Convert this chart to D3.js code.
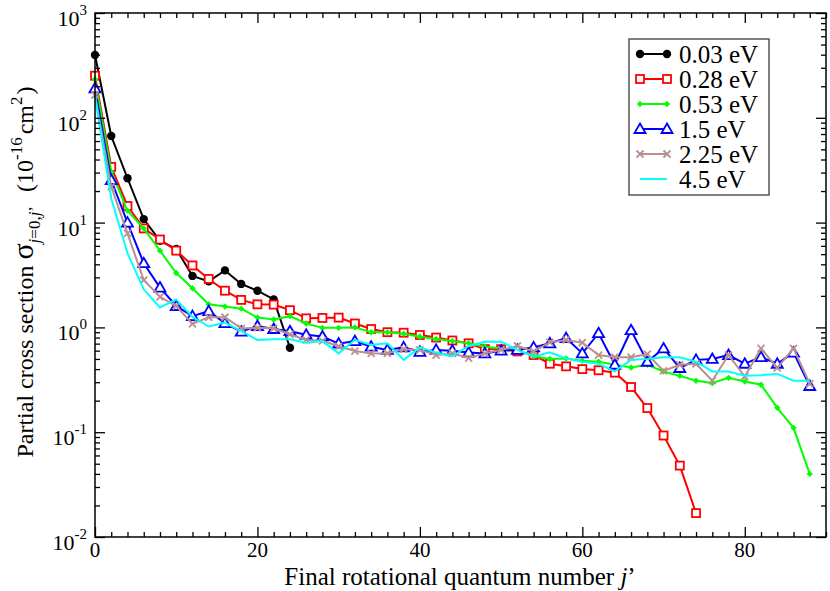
<!DOCTYPE html>
<html><head><meta charset="utf-8">
<script src="https://cdn.jsdelivr.net/npm/d3@7"></script>
<style>
body{margin:0;background:#fff;}
svg{display:block;font-family:"Liberation Serif","Times New Roman",serif;}
</style></head>
<body>
<svg id="c" width="830" height="591"></svg>
<script>
// ---- data ----
const jBlack = d3.range(0, 25, 2);
const jRed = d3.range(0, 75, 2);
const jFull = d3.range(0, 89, 2);
const black = [398, 67, 26.5, 10.8, 6.7, 5.6, 3.1, 2.75, 3.5, 2.6, 2.24, 1.85, 0.64];
const red = [252, 34, 14.4, 8.8, 6.9, 5.4, 3.9, 2.9, 2.24, 1.83, 1.66, 1.65, 1.46, 1.22, 1.23, 1.24, 1.09, 0.965, 0.90, 0.89,
  0.846, 0.80, 0.75, 0.705, 0.62, 0.62, 0.59, 0.545, 0.45, 0.425, 0.40, 0.39, 0.37, 0.27, 0.17, 0.093, 0.048, 0.0169];
const green = [233, 30.6, 13, 8.8, 5.4, 3.3, 2.36, 1.66, 1.58, 1.51, 1.24, 1.19, 1.28, 1.09, 0.99, 0.99, 1.0, 0.90, 0.90, 0.87,
  0.815, 0.775, 0.74, 0.705, 0.655, 0.63, 0.61, 0.53, 0.50, 0.505, 0.48, 0.47, 0.44, 0.415, 0.44, 0.38, 0.345, 0.31, 0.295, 0.33,
  0.305, 0.284, 0.171, 0.11, 0.040];
const blue = [191, 25.5, 10, 4.1, 2.4, 1.6, 1.28, 1.43, 1.1, 0.91, 1.03, 0.965, 0.92, 0.85, 0.82, 0.70, 0.74, 0.655, 0.61, 0.645,
  0.585, 0.61, 0.60, 0.575, 0.565, 0.60, 0.61, 0.645, 0.705, 0.79, 0.565, 0.88, 0.44, 0.94, 0.47, 0.63, 0.41, 0.49, 0.50, 0.545,
  0.45, 0.52, 0.45, 0.575, 0.276];
const brown = [165, 22, 7.9, 2.83, 1.96, 1.6, 1.08, 1.25, 1.25, 0.98, 0.99, 0.98, 0.86, 0.76, 0.745, 0.66, 0.595, 0.565, 0.565, 0.62,
  0.61, 0.545, 0.565, 0.51, 0.565, 0.61, 0.665, 0.59, 0.72, 0.76, 0.715, 0.545, 0.52, 0.52, 0.555, 0.385, 0.44, 0.45, 0.31, 0.545,
  0.34, 0.63, 0.41, 0.63, 0.29];
const cyan = [158, 17, 5.1, 2.31, 1.55, 1.85, 1.26, 1.02, 1.11, 0.92, 0.76, 0.77, 0.77, 0.715, 0.74, 0.565, 0.76, 0.68, 0.705, 0.49,
  0.645, 0.575, 0.53, 0.665, 0.73, 0.73, 0.61, 0.525, 0.58, 0.505, 0.47, 0.45, 0.38, 0.49, 0.50, 0.52, 0.52, 0.47, 0.38, 0.38,
  0.345, 0.35, 0.36, 0.31, 0.31];
const seriesLabels = ["0.03 eV", "0.28 eV", "0.53 eV", "1.5 eV", "2.25 eV", "4.5 eV"];
const xTicks = [0, 20, 40, 60, 80];
const yExponents = [3, 2, 1, 0, -1, -2];

// ---- layout ----
const L = 95, R = 826, T = 13, B = 537;
const svg = d3.select("#c");
const x = d3.scaleLinear().domain([0, 90]).range([L, R]);
const y = d3.scaleLog().domain([1e-2, 1e3]).range([B, T]);

const series = [
  {j: jBlack, v: black, color: "#000000", sym: "circle"},
  {j: jRed, v: red, color: "#ff0000", sym: "square"},
  {j: jFull, v: green, color: "#00ff00", sym: "diamond"},
  {j: jFull, v: blue, color: "#0000ff", sym: "triangle"},
  {j: jFull, v: brown, color: "#bc8f8f", sym: "cross"},
  {j: jFull, v: cyan, color: "#00ffff", sym: "none"}
];

function drawSym(g, sym, color, cx, cy) {
  if (sym === "circle") g.append("circle").attr("cx", cx).attr("cy", cy).attr("r", 4.2).attr("fill", color);
  else if (sym === "square") g.append("rect").attr("x", cx - 4).attr("y", cy - 4).attr("width", 8).attr("height", 8)
    .attr("fill", "#fff").attr("stroke", color).attr("stroke-width", 1.8);
  else if (sym === "diamond") g.append("path").attr("d", `M${cx},${cy-3.2}L${cx+3.2},${cy}L${cx},${cy+3.2}L${cx-3.2},${cy}Z`).attr("fill", color);
  else if (sym === "triangle") g.append("path").attr("d", `M${cx},${cy-5.5}L${cx+5.5},${cy+4}L${cx-5.5},${cy+4}Z`)
    .attr("fill", "#fff").attr("stroke", color).attr("stroke-width", 1.8);
  else if (sym === "cross") g.append("path").attr("d", `M${cx-3.5},${cy-3.5}L${cx+3.5},${cy+3.5}M${cx+3.5},${cy-3.5}L${cx-3.5},${cy+3.5}`)
    .attr("stroke", color).attr("stroke-width", 1.8);
}

const plot = svg.append("g");
const line = d3.line().x(d => x(d[0])).y(d => y(d[1]));
series.forEach(s => {
  const pts = s.j.map((j, i) => [j, s.v[i]]);
  plot.append("path").attr("d", line(pts)).attr("fill", "none").attr("stroke", s.color).attr("stroke-width", 2);
  const mg = plot.append("g");
  pts.forEach(p => drawSym(mg, s.sym, s.color, x(p[0]), y(p[1])));
});

// ---- axes (inward ticks) ----
const axCol = "#000";
const minorX = d3.range(0, 91, 2).filter(v => v % 20 !== 0);
const minorY = [];
for (let e = -2; e < 3; e++) for (let m = 2; m <= 9; m++) minorY.push(m * Math.pow(10, e));
const majorY = yExponents.map(e => Math.pow(10, e));

function styleAxis(g) { g.selectAll("path").remove(); g.selectAll("text").remove(); g.selectAll("line").attr("stroke", axCol).attr("stroke-width", 1.3); }
svg.append("g").attr("transform", `translate(0,${B})`).call(d3.axisBottom(x).tickValues(xTicks).tickSize(-10)).call(styleAxis);
svg.append("g").attr("transform", `translate(0,${B})`).call(d3.axisBottom(x).tickValues(minorX).tickSize(-5)).call(styleAxis);
svg.append("g").attr("transform", `translate(0,${T})`).call(d3.axisTop(x).tickValues(xTicks).tickSize(-10)).call(styleAxis);
svg.append("g").attr("transform", `translate(0,${T})`).call(d3.axisTop(x).tickValues(minorX).tickSize(-5)).call(styleAxis);
svg.append("g").attr("transform", `translate(${L},0)`).call(d3.axisLeft(y).tickValues(majorY).tickSize(-10)).call(styleAxis);
svg.append("g").attr("transform", `translate(${L},0)`).call(d3.axisLeft(y).tickValues(minorY).tickSize(-5)).call(styleAxis);
svg.append("g").attr("transform", `translate(${R},0)`).call(d3.axisRight(y).tickValues(majorY).tickSize(-10)).call(styleAxis);
svg.append("g").attr("transform", `translate(${R},0)`).call(d3.axisRight(y).tickValues(minorY).tickSize(-5)).call(styleAxis);
svg.append("rect").attr("x", L).attr("y", T).attr("width", R - L).attr("height", B - T)
  .attr("fill", "none").attr("stroke", axCol).attr("stroke-width", 1.5);

// tick labels
svg.append("g").selectAll("text").data(xTicks).join("text")
  .attr("x", d => x(d)).attr("y", B + 20).attr("text-anchor", "middle").attr("font-size", 21).text(d => d);
const yl = svg.append("g").selectAll("text").data(yExponents).join("text")
  .attr("x", L - 8).attr("y", d => y(Math.pow(10, d)) + 13).attr("text-anchor", "end").attr("font-size", 22);
yl.append("tspan").text("10");
yl.append("tspan").attr("dy", -11).attr("font-size", 15).text(d => d);

// axis titles
svg.append("text").attr("x", 460).attr("y", 585).attr("text-anchor", "middle").attr("font-size", 25)
  .html('Final rotational quantum number <tspan font-style="italic">j</tspan>’');

const yt = svg.append("text").attr("transform", "translate(33,272) rotate(-90)").attr("text-anchor", "middle").attr("font-size", 24);
yt.append("tspan").text("Partial cross section ");
yt.append("tspan").attr("font-size", 30).text("σ");
yt.append("tspan").attr("dy", 7).attr("font-size", 17).attr("font-style", "italic").text("j");
yt.append("tspan").attr("font-size", 17).text("=0,");
yt.append("tspan").attr("font-size", 17).attr("font-style", "italic").text("j");
yt.append("tspan").attr("font-size", 17).text("’");
yt.append("tspan").attr("dy", -7).attr("dx", 14).text("(10");
yt.append("tspan").attr("dy", -11).attr("font-size", 17).text("-16");
yt.append("tspan").attr("dy", 11).attr("dx", 3).text("cm");
yt.append("tspan").attr("dy", -11).attr("font-size", 17).text("2");
yt.append("tspan").attr("dy", 11).attr("dx", 2).text(")");

// legend
const lg = svg.append("g");
lg.append("rect").attr("x", 629).attr("y", 39).attr("width", 140).attr("height", 156)
  .attr("fill", "#fff").attr("stroke", "#555").attr("stroke-width", 1.5);
series.forEach((s, i) => {
  const yy = 54 + i * 25;
  lg.append("line").attr("x1", 640).attr("x2", 667).attr("y1", yy).attr("y2", yy).attr("stroke", s.color).attr("stroke-width", 2);
  if (s.sym !== "none") { drawSym(lg, s.sym, s.color, 640, yy); drawSym(lg, s.sym, s.color, 667, yy); }
  lg.append("text").attr("x", 679).attr("y", yy + 9).attr("font-size", 25).text(seriesLabels[i]);
});
</script>
</body></html>
